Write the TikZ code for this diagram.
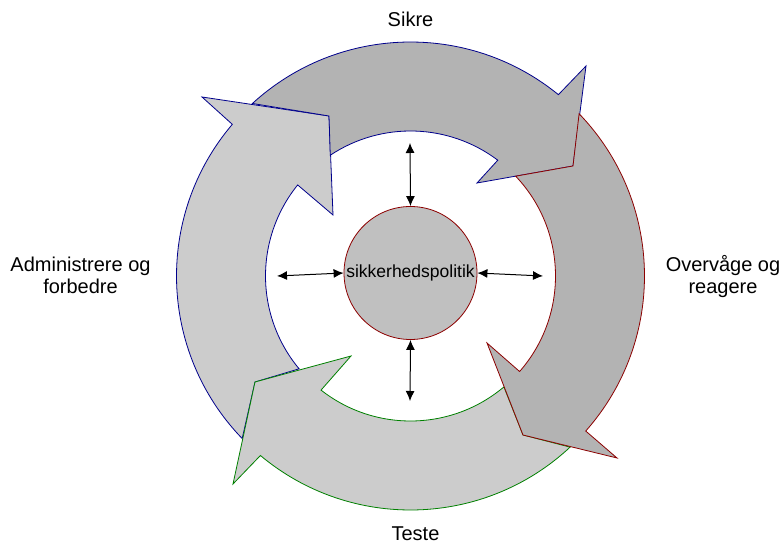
\documentclass[tikz,border=0pt]{standalone}
\usepackage{fontspec}
\setmainfont{Liberation Sans}
\usetikzlibrary{arrows.meta,calc}
\definecolor{navyline}{RGB}{0,0,140}
\definecolor{redline}{RGB}{140,0,0}
\definecolor{greenline}{RGB}{0,128,0}
\definecolor{darkfill}{RGB}{179,179,179}
\definecolor{lightfill}{RGB}{204,204,204}
\definecolor{polfill}{RGB}{192,192,192}
\begin{document}
\begin{tikzpicture}[x=1pt,y=1pt,
  ringarrow/.style={line width=0.8pt, line join=miter},
  dbl/.style={{Latex[length=10pt,width=9pt]}-{Latex[length=10pt,width=9pt]}, line width=1pt},
  lbl/.style={font=\fontsize{20}{22}\selectfont, inner sep=0pt}]
\useasboundingbox (0,0) rectangle (783,543);
\coordinate (C) at (410.5,267);
\def\Ro{234}
\def\Ri{145}
% left arrow
\draw[ringarrow, draw=navyline, fill=lightfill]
  ($(C)+(224:\Ro)$) arc[start angle=224, end angle=139.6, radius=\Ro]
  -- (202,446) -- (329,427) -- (333,328) -- ($(C)+(141.1:\Ri)$)
  arc[start angle=141.1, end angle=219.8, radius=\Ri]
  -- (255,161) -- cycle;
% top arrow
\draw[ringarrow, draw=navyline, fill=darkfill]
  ($(C)+(132.5:\Ro)$) arc[start angle=132.5, end angle=50.8, radius=\Ro]
  -- (586,477) -- (573,377) -- (477,360) -- ($(C)+(53:\Ri)$)
  arc[start angle=53, end angle=123.6, radius=\Ri]
  -- (329,427) -- cycle;
% bottom arrow
\draw[ringarrow, draw=greenline, fill=lightfill]
  ($(C)+(-47:\Ro)$) arc[start angle=-47, end angle=-129.9, radius=\Ro]
  -- (233,59) -- (255,161) -- (351,187) -- ($(C)+(-128.1:\Ri)$)
  arc[start angle=-128.1, end angle=-49.9, radius=\Ri]
  -- (523,108) -- cycle;
% right arrow
\draw[ringarrow, draw=redline, fill=darkfill]
  ($(C)+(43.9:\Ro)$) arc[start angle=43.9, end angle=-41.5, radius=\Ro]
  -- (617,85) -- (523,108) -- (487,200) -- ($(C)+(-41.2:\Ri)$)
  arc[start angle=-41.2, end angle=43.5, radius=\Ri]
  -- (573,377) -- cycle;
% centre
\node[circle, draw=redline, fill=polfill, line width=0.8pt, minimum size=133pt,
      inner sep=0pt, font=\fontsize{17.5}{20}\selectfont] (pol) at (410.5,270) {sikkerhedspolitik};
\coordinate (ptop) at (410,400);
\coordinate (pbot) at (410,142);
\coordinate (pleft) at (277,267);
\coordinate (pright) at (543,267);
\draw[dbl] (ptop) -- (pol.north);
\draw[dbl] (pol.south) -- (pbot);
\draw[dbl] (pleft) -- (pol.west);
\draw[dbl] (pol.east) -- (pright);
% labels
\node[lbl, anchor=base] (sikre) at (410.5,516) {Sikre};
\node[lbl, anchor=base] (teste) at (415.5,3) {Teste};
\node[lbl, align=center, anchor=base] (admin) at (80.5,249) {Administrere og\\forbedre};
\node[lbl, align=center, anchor=base] (overv) at (723,249) {Overvåge og\\reagere};
\end{tikzpicture}
\end{document}
